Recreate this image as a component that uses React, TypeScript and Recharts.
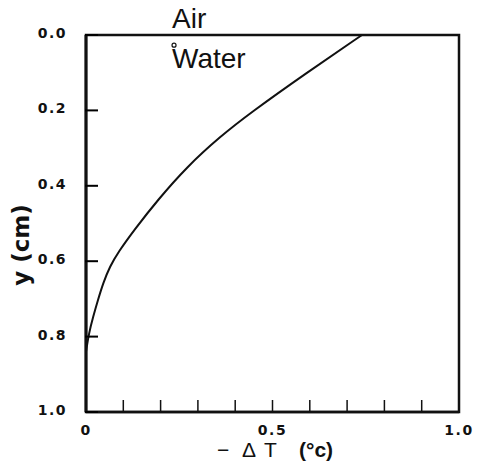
import {
  Customized,
  Line,
  LineChart,
  ReferenceArea,
  ReferenceDot,
  XAxis,
  YAxis,
} from "recharts";

// temperature depression -ΔT (°C) against depth y (cm)
const deltaT = [0, 0.008, 0.019, 0.032, 0.046, 0.064, 0.087, 0.13, 0.192, 0.27, 0.359, 0.44, 0.592, 0.74];
const depth = [0.84, 0.79, 0.748, 0.703, 0.658, 0.614, 0.575, 0.516, 0.438, 0.35, 0.27, 0.207, 0.1, 0];

const xTicks = [0, 0.1, 0.2, 0.3, 0.4, 0.5, 0.6, 0.7, 0.8, 0.9, 1];
const xTickLabels = ["0", "", "", "", "", "0.5", "", "", "", "", "1.0"];
const yTicks = [0, 0.2, 0.4, 0.6, 0.8, 1];
const yTickLabels = ["0.0", "0.2", "0.4", "0.6", "0.8", "1.0"];

const profile = deltaT.map((dT, i) => ({ dT, y: depth[i] }));

const ink = "#111";
const tickFont = {
  fontFamily: "'DejaVu Sans', sans-serif",
  fontSize: 14,
  fontWeight: 700,
  letterSpacing: 1.5,
  fill: ink,
};

function XTick({ x, y, index }: any) {
  const label = xTickLabels[index];
  const inner = index > 0 && index < xTicks.length - 1;
  return (
    <g>
      {inner && (
        <line x1={x} y1={y} x2={x} y2={y - 12} stroke={ink} strokeWidth={1.5} />
      )}
      {label && (
        <text x={x} y={y + 18} textAnchor="middle" dominantBaseline="central" {...tickFont}>
          {label}
        </text>
      )}
    </g>
  );
}

// label plus a short mark pointing into the plot
function YTick({ x, y, index }: any) {
  const px = Number(x);
  const py = Number(y);
  return (
    <g>
      <rect x={px - 1} y={py - 1} width={13} height={2} fill="#000" />
      <text x={px - 19} y={py - 2} textAnchor="end" dominantBaseline="central" {...tickFont}>
        {yTickLabels[index]}
      </text>
    </g>
  );
}

function Annotations() {
  const sans = "'Liberation Sans', Arial, sans-serif";
  return (
    <g fill={ink}>
      <text x={172} y={28} fontFamily={sans} fontSize={28}>
        Air
      </text>
      <text x={172} y={68} fontFamily={sans} fontSize={28}>
        Water
      </text>
      <text
        transform="translate(29,245) rotate(-90)"
        textAnchor="middle"
        fontFamily="'DejaVu Sans', sans-serif"
        fontSize={23}
        fontWeight={700}
      >
        y (cm)
      </text>
      <text y={457} fontFamily={sans} fontSize={21}>
        <tspan x={217}>−</tspan>
        <tspan x={242} fontWeight={400}>Δ</tspan>
        <tspan x={264} fontWeight={400}>T</tspan>
        <tspan x={299} fontWeight={700}>(°c)</tspan>
      </text>
    </g>
  );
}

export default function App() {
  return (
    <div style={{ position: "absolute", left: 0, top: 0, background: "#fff" }}>
      <LineChart
        width={477}
        height={470}
        data={profile}
        margin={{ top: 35, right: 18, bottom: 8, left: 0 }}
      >
        <XAxis
          type="number"
          dataKey="dT"
          domain={[0, 1]}
          ticks={xTicks}
          interval={0}
          height={50}
          tickSize={0}
          tickMargin={0}
          tickLine={false}
          tick={<XTick />}
          axisLine={{ stroke: ink, strokeWidth: 2.5 }}
        />
        <YAxis
          type="number"
          dataKey="y"
          domain={[0, 1]}
          reversed
          ticks={yTicks}
          interval={0}
          width={86}
          tickSize={0}
          tickMargin={0}
          tickLine={false}
          tick={<YTick />}
          axisLine={{ stroke: ink, strokeWidth: 3 }}
        />
        <ReferenceArea
          x1={0}
          x2={1}
          y1={0}
          y2={1}
          fill="none"
          stroke={ink}
          strokeWidth={2.5}
          ifOverflow="visible"
        />
        <Line
          type="basis"
          dataKey="y"
          stroke={ink}
          strokeWidth={2}
          dot={false}
          isAnimationActive={false}
        />
        <ReferenceDot
          x={0.236}
          y={0.027}
          r={2}
          fill="#fff"
          stroke={ink}
          strokeWidth={1.2}
          ifOverflow="visible"
        />
        <Customized component={Annotations} />
      </LineChart>
    </div>
  );
}
